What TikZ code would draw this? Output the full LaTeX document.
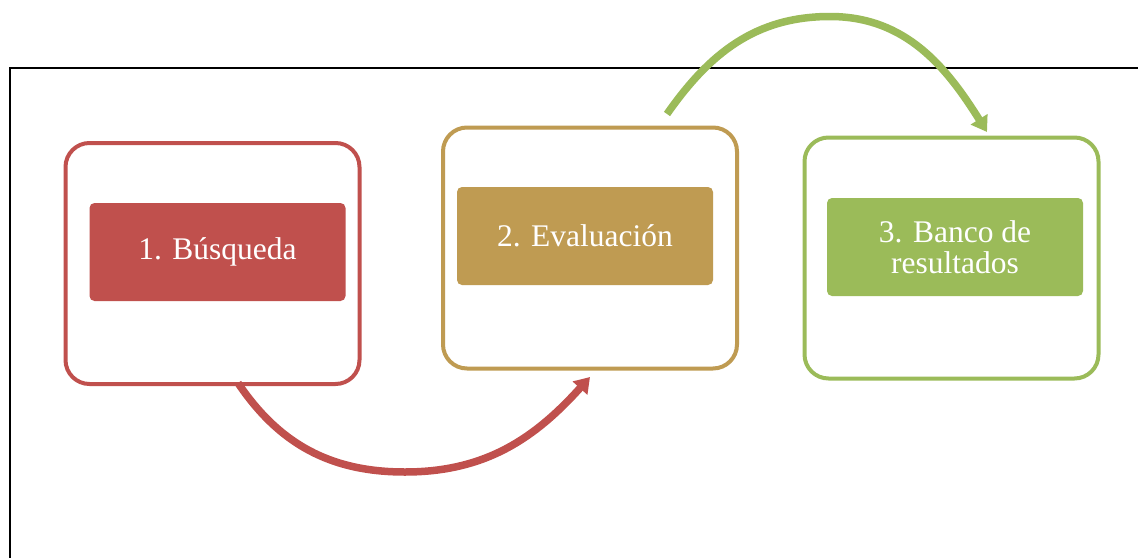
\documentclass[tikz,border=0pt]{standalone}
\usepackage{fontspec}
\setmainfont{Liberation Serif}
\usetikzlibrary{arrows.meta}
\definecolor{cred}{HTML}{C0504D}
\definecolor{cgold}{HTML}{BF9B52}
\definecolor{cgreen}{HTML}{9BBB59}
\tikzset{
  outerbox/.style={draw=#1, line width=4pt, fill=white, rounded corners=24pt,
    minimum width=294pt, minimum height=241pt, inner sep=0pt},
  innerbox/.style={fill=#1, rounded corners=5pt, minimum width=256pt,
    minimum height=98pt, inner sep=0pt, text=white, align=center,
    font=\fontsize{31.5}{31}\selectfont},
  flowarrow/.style={draw=#1, line width=7.5pt, -{Triangle[length=15pt,width=19pt]}}
}
\begin{document}
\begin{tikzpicture}[x=1pt,y=1pt]
\useasboundingbox (0,0) rectangle (1138,-557);
\begin{scope}
\clip (0,0) rectangle (1138,-557);
\node[draw=black, line width=2pt, minimum width=1200pt, minimum height=600pt, anchor=north west, inner sep=0pt] (frame) at (8.5,-67) {};
\end{scope}
\node[outerbox=cred] (b1) at (212.5,-263.5) {};
\node[outerbox=cgold] (b2) at (590,-248) {};
\node[outerbox=cgreen] (b3) at (951.5,-258) {};
\node[innerbox=cred] (i1) at (217.5,-252) {1. Búsqueda};
\node[innerbox=cgold] (i2) at (585,-236) {2. Evaluación};
\node[innerbox=cgreen] (i3) at (955,-247) {3. Banco de\\resultados};
\coordinate (rs) at (238,-383);
\coordinate (rm) at (405,-472);
\coordinate (re) at (590,-377);
\coordinate (gs) at (667,-114);
\coordinate (gm) at (830,-16.5);
\coordinate (ge) at (987,-132);
\draw[flowarrow=cred] (rs) to[out=-56,in=180] (rm) to[out=0,in=228] (re);
\draw[flowarrow=cgreen] (gs) to[out=55,in=180] (gm) to[out=0,in=122] (ge);
\end{tikzpicture}
\end{document}
